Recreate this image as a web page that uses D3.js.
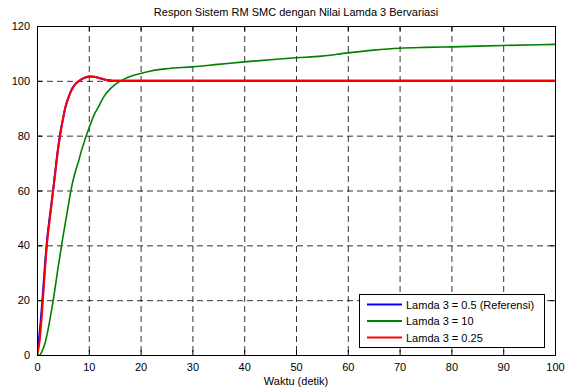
<!DOCTYPE html>
<html>
<head>
<meta charset="utf-8">
<script src="https://cdn.jsdelivr.net/npm/d3@7"></script>
<style>
  body { margin: 0; background: #fff; }
  text { font-family: Arial, "Liberation Sans", Helvetica, sans-serif; }
</style>
</head>
<body>
<div id="chart"></div>
<script>
// time samples (detik) and response values
const tRef = [0, 0.5, 1, 1.5, 2, 2.5, 3, 3.5, 4, 4.5, 5, 5.5, 6, 6.5, 7, 7.5, 8, 9, 10, 11, 12, 13, 14, 15, 16, 18, 20, 30, 40, 50, 60, 70, 80, 90, 100];
const blueVals = [0, 8, 19, 32, 43, 51, 58.5, 66.5, 74.5, 81, 86, 90.5, 93.5, 96, 97.8, 99, 99.8, 101, 101.6, 101.5, 101, 100.5, 100.2, 100, 100, 100, 100, 100, 100, 100, 100, 100, 100, 100, 100];
const redVals  = [0, 5, 16, 30, 42, 50, 58, 66, 74, 80.5, 86, 90.5, 93.5, 96, 97.8, 99, 99.8, 101, 101.6, 101.5, 101, 100.5, 100.2, 100, 100, 100, 100, 100, 100, 100, 100, 100, 100, 100, 100];
const tGreen = [0, 0.5, 1, 1.5, 2, 2.5, 3, 3.5, 4, 4.5, 5, 5.5, 6, 6.5, 7, 7.5, 8, 8.5, 9, 9.5, 10, 11, 12, 13, 14, 15, 16, 17, 18, 20, 22, 25, 30, 35, 40, 45, 50, 55, 60, 65, 70, 75, 80, 90, 100];
const greenVals = [0, 0, 1.5, 4, 8, 13, 18.5, 24.5, 31, 37, 43, 48.5, 54, 59.5, 64, 67.5, 70.5, 74, 77, 80, 82.5, 87.5, 91, 94.5, 96.8, 98.5, 99.8, 100.8, 101.6, 102.7, 103.6, 104.4, 105.1, 106, 106.9, 107.7, 108.4, 109, 110.2, 111.2, 111.9, 112.2, 112.4, 112.9, 113.3];

const seriesNames = ["Lamda 3 = 0.5 (Referensi)", "Lamda 3 = 10", "Lamda 3 = 0.25"];
const seriesColors = ["#0000ff", "#008000", "#ff0000"];
const xTicks = [0, 10, 20, 30, 40, 50, 60, 70, 80, 90, 100];
const yTicks = [0, 20, 40, 60, 80, 100, 120];

const width = 579, height = 390;
const m = {left: 37, right: 555, top: 26, bottom: 355};

const svg = d3.select("#chart").append("svg")
  .attr("width", width)
  .attr("height", height);

svg.append("rect").attr("width", width).attr("height", height).attr("fill", "#fff");

const x = d3.scaleLinear().domain([0, 100]).range([m.left, m.right]);
const y = d3.scaleLinear().domain([0, 120]).range([m.bottom, m.top]);

// dashed grid
const grid = svg.append("g");
grid.selectAll(".vgrid")
  .data(xTicks.slice(1, -1)).enter()
  .append("line")
  .attr("x1", d => x(d) + 0.5).attr("x2", d => x(d) + 0.5)
  .attr("y1", m.top).attr("y2", m.bottom)
  .attr("stroke", "#000").attr("stroke-width", 0.8)
  .attr("stroke-dasharray", "6,4");
grid.selectAll(".hgrid")
  .data(yTicks.slice(1, -1)).enter()
  .append("line")
  .attr("y1", d => y(d) + 0.5).attr("y2", d => y(d) + 0.5)
  .attr("x1", m.left).attr("x2", m.right)
  .attr("stroke", "#000").attr("stroke-width", 0.8)
  .attr("stroke-dasharray", "6,4");

// axes with inward ticks, also mirrored on top/right
const axB = d3.axisBottom(x).tickValues(xTicks).tickSize(-5).tickPadding(8);
const axT = d3.axisTop(x).tickValues(xTicks).tickSize(-5).tickFormat("");
const axL = d3.axisLeft(y).tickValues(yTicks).tickSize(-5).tickPadding(7);
const axR = d3.axisRight(y).tickValues(yTicks).tickSize(-5).tickFormat("");

function styleAxis(g) {
  g.select(".domain").remove();
  g.selectAll("line").attr("stroke", "#000");
  g.selectAll("text").attr("font-size", 11).attr("fill", "#000")
    .style("font-family", "Arial, 'Liberation Sans', sans-serif");
}
svg.append("g").attr("transform", `translate(0,${m.bottom})`).call(axB).call(styleAxis);
svg.append("g").attr("transform", `translate(0,${m.top})`).call(axT).call(styleAxis);
svg.append("g").attr("transform", `translate(${m.left},0)`).call(axL).call(styleAxis);
svg.append("g").attr("transform", `translate(${m.right},0)`).call(axR).call(styleAxis);

// curves
svg.append("clipPath").attr("id", "plotclip")
  .append("rect").attr("x", m.left).attr("y", m.top)
  .attr("width", m.right - m.left).attr("height", m.bottom - m.top);

const line = d3.line()
  .x(d => x(d[0]))
  .y(d => y(d[1]))
  .curve(d3.curveMonotoneX);

const curves = [
  d3.zip(tRef, blueVals),
  d3.zip(tGreen, greenVals),
  d3.zip(tRef, redVals)
];

svg.append("g").attr("clip-path", "url(#plotclip)")
  .selectAll("path")
  .data(curves).enter()
  .append("path")
  .attr("d", line)
  .attr("fill", "none")
  .attr("stroke", (d, i) => seriesColors[i])
  .attr("stroke-width", (d, i) => i === 1 ? 1.6 : 2)
  .attr("stroke-linejoin", "round");

// plot box
svg.append("rect")
  .attr("x", m.left + 0.5).attr("y", m.top + 0.5)
  .attr("width", m.right - m.left).attr("height", m.bottom - m.top)
  .attr("fill", "none").attr("stroke", "#000").attr("stroke-width", 1);

// title and label
svg.append("text")
  .attr("x", (m.left + m.right) / 2).attr("y", 16)
  .attr("text-anchor", "middle").attr("font-size", 11)
  .text("Respon Sistem RM SMC dengan Nilai Lamda 3 Bervariasi");
svg.append("text")
  .attr("x", (m.left + m.right) / 2).attr("y", 385)
  .attr("text-anchor", "middle").attr("font-size", 11)
  .text("Waktu (detik)");

// legend
const lg = svg.append("g").attr("transform", "translate(359,294)");
lg.append("rect").attr("x", 0.5).attr("y", 0.5).attr("width", 185).attr("height", 53)
  .attr("fill", "#fff").attr("stroke", "#000").attr("stroke-width", 1);
const items = lg.selectAll(".item").data(seriesNames).enter()
  .append("g").attr("transform", (d, i) => `translate(0,${10.5 + i * 16.5})`);
items.append("line")
  .attr("x1", 8).attr("x2", 43).attr("y1", 0).attr("y2", 0)
  .attr("stroke", (d, i) => seriesColors[i]).attr("stroke-width", 2);
items.append("text")
  .attr("x", 47).attr("y", 4).attr("font-size", 11)
  .text(d => d);
</script>
</body>
</html>
